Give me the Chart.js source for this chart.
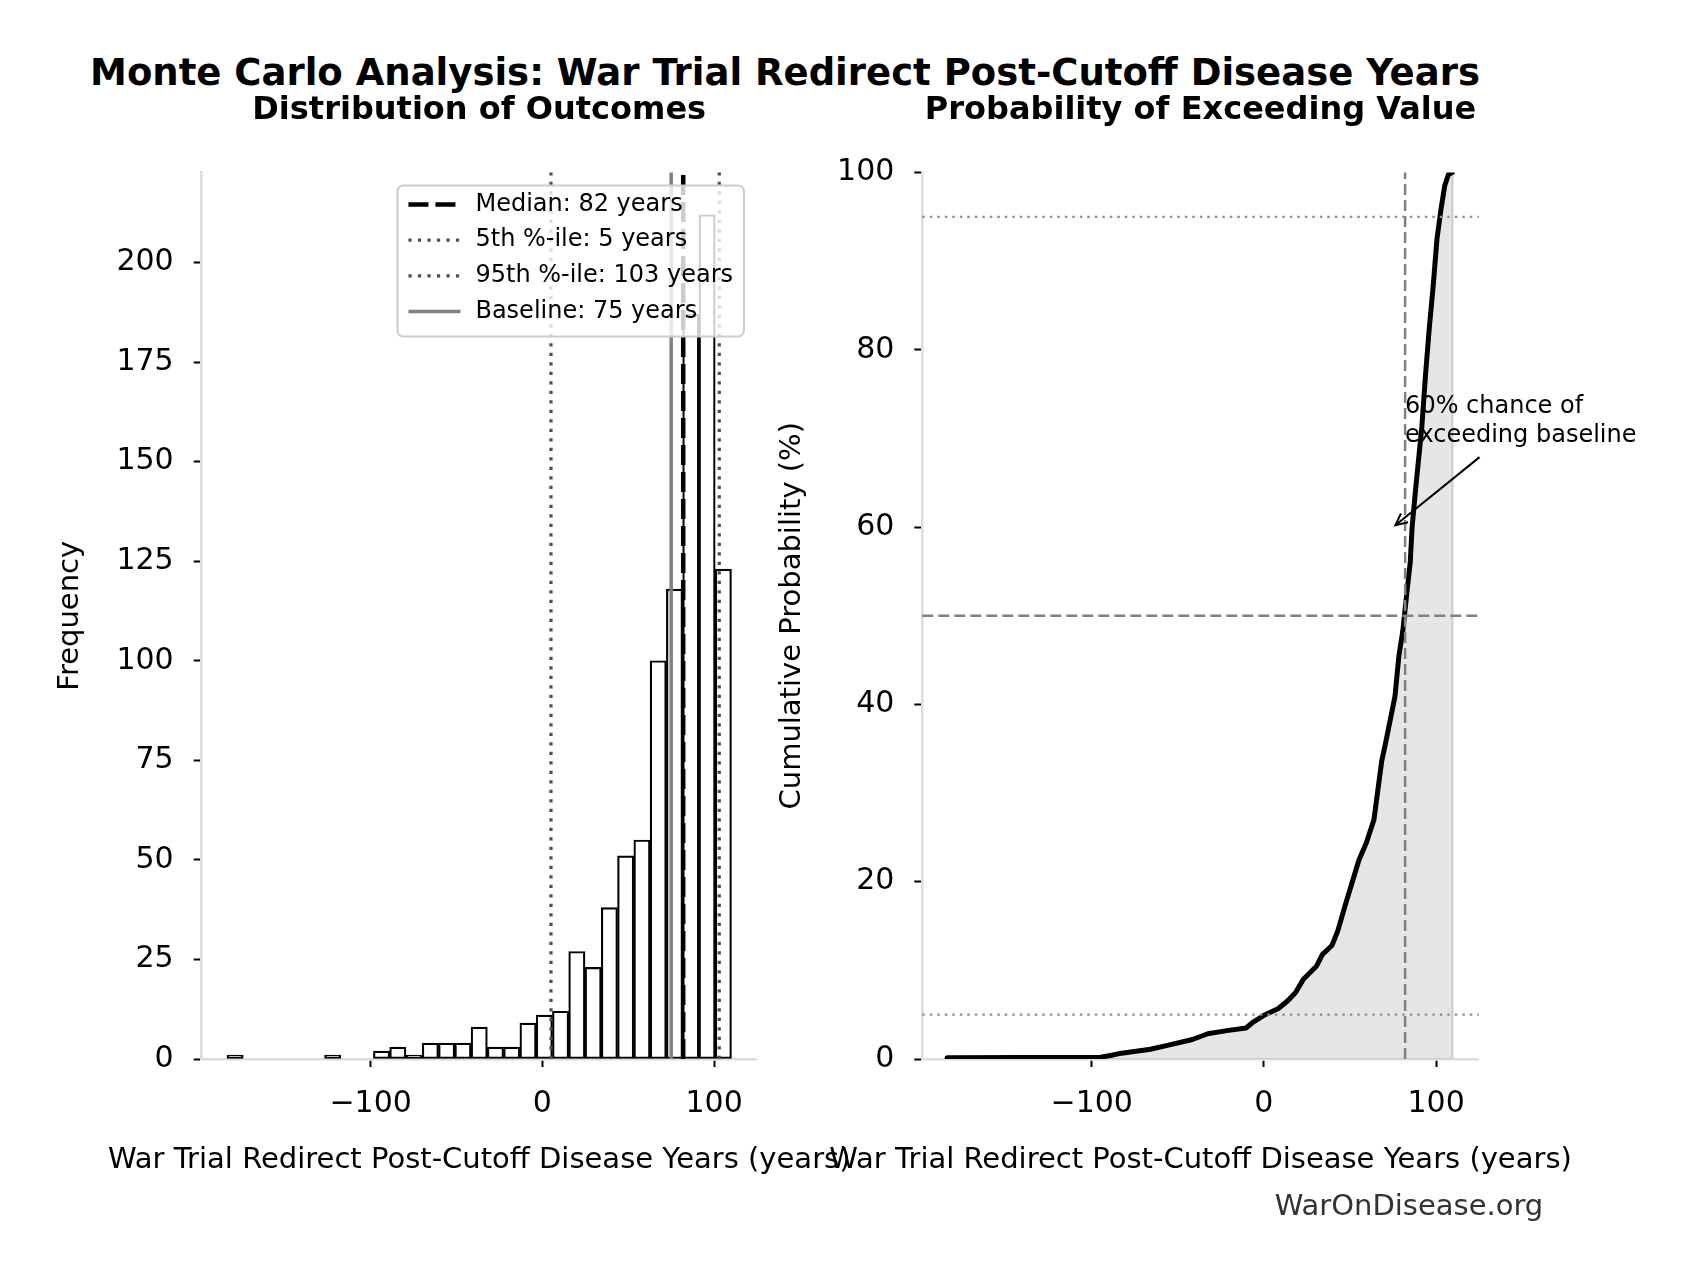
<!DOCTYPE html>
<html>
<head>
<meta charset="utf-8">
<script src="https://cdn.jsdelivr.net/npm/chart.js@4.4.0/dist/chart.umd.min.js"></script>
<style>
  html, body { margin: 0; padding: 0; background: #ffffff; }
  body { width: 1696px; height: 1280px; position: relative; overflow: hidden; font-family: 'DejaVu Sans', sans-serif; }
  #suptitle { position: absolute; left: 0; width: 1570px; top: 51px; line-height: 44px; text-align: center;
              font-weight: bold; font-size: 37px; color: #000; white-space: nowrap; }
  #wm { position: absolute; left: 1209px; width: 400px; top: 1188px; line-height: 34px; text-align: center;
        font-size: 29px; color: #333333; }
  canvas { position: absolute; top: 0; }
</style>
</head>
<body>
<div id="suptitle">Monte Carlo Analysis: War Trial Redirect Post-Cutoff Disease Years</div>
<canvas id="hist" width="848" height="1280" style="left:0px"></canvas>
<canvas id="cdf" width="976" height="1280" style="left:720px"></canvas>
<div id="wm">WarOnDisease.org</div>
<script>
// ---------------- DATA ----------------
const histRange = [-183.7, 110.1];           // outer bin edges (years)
const histCounts = [1, 0, 0, 0, 0, 0, 1, 0, 0, 2, 3, 1, 4, 4, 4, 8, 3, 3, 9, 11,
                    12, 27, 23, 38, 51, 55, 100, 118, 187, 212, 123];
const medianValue = 82;
const p5Value = 5;
const p95Value = 103;
const baselineValue = 75;

const cdfX = [-184.0, -94.8, -89.2, -82.6, -65.9, -54.8, -41.5, -32.6, -21.5, -10.4, -6.0, 0.7, 8.4,
              14.0, 18.4, 22.9, 30.6, 34.0, 39.5, 42.8, 47.3, 55.1, 59.5, 63.9, 68.4, 70.6, 76.1, 78.4,
              80.6, 82.8, 85.0, 86.1, 88.3, 91.7, 93.9, 96.1, 98.3, 100.5, 102.8, 105.0, 107.2, 109.4];
const cdfY = [0.13, 0.2, 0.4, 0.66, 1.1, 1.6, 2.2, 2.85, 3.2, 3.5, 4.2, 5.0, 5.7,
              6.6, 7.5, 9.0, 10.5, 11.8, 12.8, 14.4, 17.4, 22.4, 24.4, 27.0, 33.6, 35.6, 40.9, 45.5,
              48.2, 52.2, 56.1, 60.1, 64.7, 71.3, 77.3, 82.6, 87.2, 92.5, 95.8, 98.5, 99.8, 100];

const xTicksStep = 100;
const histTickStep = 25;
const cdfTickStep = 20;
const cdfRefLevels = { p95: 95, mid: 50, p5: 5 };

const titleLeft = 'Distribution of Outcomes';
const titleRight = 'Probability of Exceeding Value';
const xLabel = 'War Trial Redirect Post-Cutoff Disease Years (years)';
const yLabelLeft = 'Frequency';
const yLabelRight = 'Cumulative Probability (%)';
const annotationText = ['60% chance of', 'exceeding baseline'];
const annotationTip = [baselineValue, 60];
const annotationAt = [medianValue, 75];

// ---------------- DERIVED ----------------
const nBins = histCounts.length;
const binW = (histRange[1] - histRange[0]) / nBins;
const histData = histCounts.map((c, i) => ({ x: histRange[0] + binW * (i + 0.5), y: c }));
const span = histRange[1] - histRange[0];
const xMin = histRange[0] - 0.05 * span;
const xMax = histRange[1] + 0.05 * span;
const yMaxHist = Math.max(...histCounts) * 1.05;
const cdfPoints = cdfX.map((x, i) => ({ x: x, y: cdfY[i] }));
const cdfFillPoints = cdfPoints.concat([{ x: cdfX[cdfX.length - 1], y: 0 }]);

Chart.defaults.font.family = "'DejaVu Sans', sans-serif";
Chart.defaults.color = '#000';
Chart.defaults.animation = false;

const FONT = "'DejaVu Sans', sans-serif";
const LABEL_SIZE = 29;
const fmtTick = v => (v < 0 ? '\u2212' + Math.abs(v) : String(v));

function xAxis() {
  return {
    type: 'linear', min: xMin, max: xMax, offset: false,
    border: { display: true, color: '#dcdcdc', width: 2.5 },
    grid: { display: true, offset: false, drawOnChartArea: false, drawTicks: true, tickLength: 8, tickColor: '#000', tickWidth: 2 },
    ticks: { stepSize: xTicksStep, includeBounds: false, padding: 19.5, font: { size: 30 }, color: '#000',
             maxRotation: 0, autoSkip: false, callback: fmtTick },
    afterFit(s) { s.height = 221; }
  };
}
function yAxis(label, min, max, step, titlePad, width) {
  return {
    type: 'linear', min: min, max: max,
    border: { display: true, color: '#dcdcdc', width: 2.5 },
    grid: { display: true, offset: false, drawOnChartArea: false, drawTicks: true, tickLength: 8, tickColor: '#000', tickWidth: 2 },
    ticks: { stepSize: step, includeBounds: false, padding: 20, font: { size: 30 }, color: '#000', callback: fmtTick },
    title: { display: true, text: label, font: { size: LABEL_SIZE }, color: '#000', padding: { top: titlePad, bottom: 0 } },
    afterFit(s) { s.width = width; }
  };
}

// ---------------- PLUGINS ----------------
const refLinePlugin = {
  id: 'refLines',
  afterDatasetsDraw(chart, args, opts) {
    const { ctx, chartArea: a, scales } = chart;
    (opts.lines || []).forEach(l => {
      ctx.save();
      ctx.strokeStyle = l.color; ctx.lineWidth = l.width; ctx.setLineDash(l.dash || []);
      ctx.beginPath();
      if (l.axis === 'x') {
        const p = scales.x.getPixelForValue(l.value);
        ctx.moveTo(p, a.bottom); ctx.lineTo(p, a.top);
      } else {
        const p = scales.y.getPixelForValue(l.value);
        ctx.moveTo(a.left, p); ctx.lineTo(a.right, p);
      }
      ctx.stroke();
      ctx.restore();
    });
  }
};

const xTitlePlugin = {
  id: 'xTitle',
  afterDraw(chart, args, opts) {
    const { ctx, chartArea: a } = chart;
    ctx.save();
    ctx.font = LABEL_SIZE + 'px ' + FONT;
    ctx.fillStyle = '#000'; ctx.textAlign = 'center'; ctx.textBaseline = 'middle';
    ctx.fillText(opts.text, (a.left + a.right) / 2, a.bottom + 101);
    ctx.restore();
  }
};

const boxLegendPlugin = {
  id: 'boxLegend',
  afterDraw(chart, args, opts) {
    const { ctx, chartArea: a } = chart;
    const items = opts.items;
    ctx.save();
    ctx.font = '24px ' + FONT;
    const tw = Math.max(...items.map(i => ctx.measureText(i.label).width));
    const padL = 11, handle = 52, gap = 15, padR = 11, rowH = 35.7, firstRow = 19;
    const w = padL + handle + gap + tw + padR;
    const h = firstRow + rowH * (items.length - 1) + 25;
    const right = a.right - 12.7, top = a.top + 13, left = right - w;
    const r = 6;
    ctx.beginPath();
    ctx.moveTo(left + r, top);
    ctx.arcTo(right, top, right, top + h, r);
    ctx.arcTo(right, top + h, left, top + h, r);
    ctx.arcTo(left, top + h, left, top, r);
    ctx.arcTo(left, top, right, top, r);
    ctx.closePath();
    ctx.fillStyle = 'rgba(255,255,255,0.8)';
    ctx.fill();
    ctx.strokeStyle = '#cccccc'; ctx.lineWidth = 2;
    ctx.stroke();
    items.forEach((it, i) => {
      const y = top + firstRow + i * rowH;
      ctx.beginPath();
      ctx.strokeStyle = it.color; ctx.lineWidth = it.width; ctx.setLineDash(it.dash || []);
      ctx.moveTo(left + padL, y); ctx.lineTo(left + padL + handle, y);
      ctx.stroke();
      ctx.setLineDash([]);
      ctx.fillStyle = '#000'; ctx.textAlign = 'left'; ctx.textBaseline = 'middle';
      ctx.fillText(it.label, left + padL + handle + gap, y);
    });
    ctx.restore();
  }
};

const annotationPlugin = {
  id: 'annot',
  afterDraw(chart, args, opts) {
    const { ctx, scales } = chart;
    const tx = scales.x.getPixelForValue(opts.at[0]);
    const ty = scales.y.getPixelForValue(opts.at[1]);
    const px = scales.x.getPixelForValue(opts.tip[0]);
    const py = scales.y.getPixelForValue(opts.tip[1]);
    ctx.save();
    ctx.font = '24px ' + FONT;
    ctx.fillStyle = '#000'; ctx.textAlign = 'left'; ctx.textBaseline = 'alphabetic';
    const lh = 28.6;
    let tw = 0;
    opts.text.forEach((t, i) => { ctx.fillText(t, tx, ty + 19 + i * lh); tw = Math.max(tw, ctx.measureText(t).width); });
    const bh = lh * opts.text.length + 2;
    const cx = tx + tw / 2, cy = ty + bh / 2;
    let dx = px - cx, dy = py - cy;
    const len = Math.hypot(dx, dy); dx /= len; dy /= len;
    const tExit = Math.min(Math.abs((bh / 2) / dy), Math.abs((tw / 2) / dx));
    const sx = cx + dx * (tExit + 6), sy = cy + dy * (tExit + 6);
    const ex = px - dx * 3, ey = py - dy * 3;
    ctx.strokeStyle = '#000'; ctx.lineWidth = 2; ctx.lineCap = 'butt';
    ctx.beginPath(); ctx.moveTo(sx, sy); ctx.lineTo(ex, ey); ctx.stroke();
    const ang = Math.atan2(dy, dx), hl = 13, ha = 0.45;
    ctx.beginPath();
    ctx.moveTo(ex - hl * Math.cos(ang - ha), ey - hl * Math.sin(ang - ha));
    ctx.lineTo(ex, ey);
    ctx.lineTo(ex - hl * Math.cos(ang + ha), ey - hl * Math.sin(ang + ha));
    ctx.stroke();
    ctx.restore();
  }
};

const titleFont = { size: 32, weight: 'bold' };
const titlePadding = { top: 91.5, bottom: 42.6 };

// ---------------- LEFT: HISTOGRAM ----------------
new Chart(document.getElementById('hist'), {
  type: 'bar',
  data: {
    datasets: [{
      data: histData,
      backgroundColor: '#ffffff', borderColor: '#000000', borderWidth: 2.2, borderSkipped: false,
      categoryPercentage: 1, barPercentage: 1
    }]
  },
  options: {
    responsive: false, maintainAspectRatio: false, devicePixelRatio: 1,
    layout: { padding: { left: 0, right: 848 - 756.7, top: 0, bottom: 0 } },
    scales: {
      x: xAxis(),
      y: yAxis(yLabelLeft, 0, yMaxHist, histTickStep, 70 - 17.4, 201.7)
    },
    plugins: {
      legend: { display: false }, tooltip: { enabled: false },
      title: { display: true, text: titleLeft, fullSize: false, font: titleFont, color: '#000', padding: titlePadding },
      refLines: { lines: [
        { axis: 'x', value: medianValue, color: '#000000', width: 4.5, dash: [20, 7] },
        { axis: 'x', value: p5Value, color: '#4d4d4d', width: 3.2, dash: [3.2, 6.3] },
        { axis: 'x', value: p95Value, color: '#4d4d4d', width: 3.2, dash: [3.2, 6.3] },
        { axis: 'x', value: baselineValue, color: '#808080', width: 3.5, dash: [] }
      ] },
      xTitle: { text: xLabel },
      boxLegend: { items: [
        { label: 'Median: ' + medianValue + ' years', color: '#000000', width: 4.5, dash: [20, 7] },
        { label: '5th %-ile: ' + p5Value + ' years', color: '#4d4d4d', width: 3.2, dash: [3.2, 6.3] },
        { label: '95th %-ile: ' + p95Value + ' years', color: '#4d4d4d', width: 3.2, dash: [3.2, 6.3] },
        { label: 'Baseline: ' + baselineValue + ' years', color: '#808080', width: 3.5, dash: [] }
      ] }
    }
  },
  plugins: [refLinePlugin, xTitlePlugin, boxLegendPlugin]
});

// ---------------- RIGHT: CDF ----------------
new Chart(document.getElementById('cdf'), {
  type: 'line',
  data: {
    datasets: [
      { data: cdfPoints, borderColor: '#000000', borderWidth: 5, pointRadius: 0, fill: false, tension: 0,
        borderJoinStyle: 'round', borderCapStyle: 'round' },
      { data: cdfFillPoints, borderColor: '#d0d0d0', borderWidth: 2.5, pointRadius: 0, tension: 0,
        backgroundColor: 'rgba(128,128,128,0.2)', fill: 'origin' }
    ]
  },
  options: {
    responsive: false, maintainAspectRatio: false, devicePixelRatio: 1,
    layout: { padding: { left: 0, right: 976 - 758.8, top: 0, bottom: 0 } },
    scales: {
      x: xAxis(),
      y: yAxis(yLabelRight, 0, 100, cdfTickStep, 72 - 17.4, 202.3)
    },
    plugins: {
      legend: { display: false }, tooltip: { enabled: false },
      title: { display: true, text: titleRight, fullSize: false, font: titleFont, color: '#000', padding: titlePadding },
      refLines: { lines: [
        { axis: 'y', value: cdfRefLevels.p95, color: '#909090', width: 2.2, dash: [2.5, 5] },
        { axis: 'y', value: cdfRefLevels.mid, color: '#808080', width: 2.5, dash: [11, 5] },
        { axis: 'y', value: cdfRefLevels.p5, color: '#909090', width: 2.2, dash: [2.5, 5] },
        { axis: 'x', value: medianValue, color: '#808080', width: 2.5, dash: [11, 5] }
      ] },
      xTitle: { text: xLabel },
      annot: { text: annotationText, at: annotationAt, tip: annotationTip }
    }
  },
  plugins: [refLinePlugin, xTitlePlugin, annotationPlugin]
});
</script>
</body>
</html>
